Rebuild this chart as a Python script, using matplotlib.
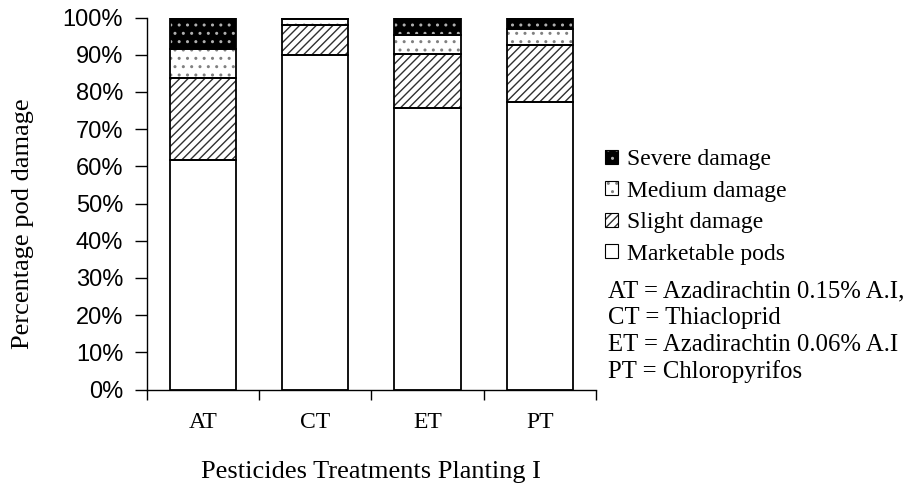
import matplotlib
matplotlib.use("Agg")
import matplotlib.pyplot as plt
from matplotlib.patches import Patch
from matplotlib.legend_handler import HandlerTuple
import numpy as np

# ---- data ----
categories = ["AT", "CT", "ET", "PT"]
marketable = [61.7, 90.0, 75.6, 77.2]
slight = [22.1, 8.1, 14.5, 15.5]
medium = [7.8, 1.4, 5.3, 4.1]
severe = [8.4, 0.5, 4.6, 3.2]
series_names = ["Marketable pods", "Slight damage", "Medium damage", "Severe damage"]
yticks = [0, 10, 20, 30, 40, 50, 60, 70, 80, 90, 100]
ytick_labels = [f"{v}%" for v in yticks]
notes = ["AT = Azadirachtin 0.15% A.I,", "CT = Thiacloprid",
         "ET = Azadirachtin 0.06% A.I", "PT = Chloropyrifos"]

# ---- styles ----
styles = [
    dict(face="white", hatch=None, hcol="black"),
    dict(face="white", hatch="////", hcol="#303030"),
    dict(face="white", hatch="..", hcol="#808080"),
    dict(face="black", hatch="..", hcol="#b0b0b0"),
]
plt.rcParams["hatch.linewidth"] = 1.0

serif = "Liberation Serif"
sans = "Liberation Sans"

fig = plt.figure(figsize=(9.12, 4.87), dpi=100)
ax = fig.add_axes([0.1609, 0.2002, 0.6535 - 0.1609, 0.964 - 0.2002])

x = np.arange(len(categories))
width = 0.59
bottom = np.zeros(len(categories))
handles = []
for vals, st, name in zip([marketable, slight, medium, severe], styles, series_names):
    vals = np.array(vals)
    ax.bar(x, vals, width, bottom=bottom, color=st["face"], hatch=st["hatch"],
           edgecolor=st["hcol"], linewidth=0, zorder=2)
    ax.bar(x, vals, width, bottom=bottom, fill=False, edgecolor="black",
           linewidth=1.3, zorder=3)
    bottom += vals
    h = (Patch(facecolor=st["face"], hatch=st["hatch"], edgecolor=st["hcol"], linewidth=0),
         Patch(fill=False, edgecolor="black", linewidth=0.8))
    handles.append((h, name))

ax.set_xlim(-0.5, len(categories) - 0.5)
ax.set_ylim(0, 100)
ax.set_yticks(yticks)
ax.set_yticklabels(ytick_labels, fontfamily=sans, fontsize=17)
ax.set_xticks(np.arange(len(categories) + 1) - 0.5)
ax.set_xticklabels([])
ax.set_xticks(x, minor=True)
ax.set_xticklabels(categories, minor=True, fontfamily=serif, fontsize=17)
ax.tick_params(axis="x", which="minor", length=0, pad=16)
ax.tick_params(axis="x", which="major", length=7, width=1, direction="out")
ax.tick_params(axis="y", length=9, width=1, direction="out", pad=8)
for s in ["top", "right"]:
    ax.spines[s].set_visible(False)
for s in ["left", "bottom"]:
    ax.spines[s].set_linewidth(1.0)

ax.set_ylabel("Percentage pod damage", fontfamily=serif, fontsize=19)
ax.yaxis.set_label_coords(-0.251, 0.4456)
ax.set_xlabel("Pesticides Treatments Planting I", fontfamily=serif, fontsize=19, labelpad=20)

hs = [h for h, n in handles][::-1]
ns = [n for h, n in handles][::-1]
leg = fig.legend(hs, ns, handler_map={tuple: HandlerTuple(ndivide=1)},
                 loc="upper left", bbox_to_anchor=(605 / 912, 0.694), frameon=False,
                 prop={"family": serif, "size": 17}, handlelength=0.55, handleheight=0.55,
                 handletextpad=0.38, labelspacing=0.445, borderaxespad=0, borderpad=0)

note_y = [291, 318, 345, 372]
for t, yy in zip(notes, note_y):
    fig.text(608 / 912, 1 - yy / 487, t, fontfamily=serif, fontsize=17.8, va="center", ha="left")

fig.savefig("out.png", dpi=100)
